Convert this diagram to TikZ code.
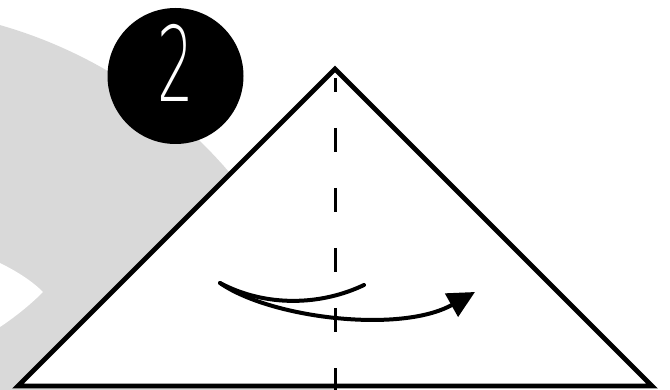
\documentclass[tikz,border=0pt]{standalone}
\usepackage{fontspec}
\newfontfamily\numfont{DejaVu Sans ExtraLight}
\usetikzlibrary{arrows.meta}
\definecolor{bggray}{HTML}{D9D9D9}
\tikzset{
  outline/.style={line width=4.8pt, line join=miter},
  foldline/.style={line width=3pt, dash pattern=on 24pt off 36pt, dash phase=10pt},
  curve/.style={line width=4pt, line cap=round},
}
\begin{document}
\begin{tikzpicture}[x=1pt,y=-1pt]
  \useasboundingbox (0,0) rectangle (670,390);
  \begin{scope}
    \clip (0,0) rectangle (670,390);
    \fill[bggray] (-130,480) circle (473);
    \fill[white] (-2,262) -- (0,263) .. controls (18,272) and (32,281) .. (43,292)
      .. controls (30,305) and (15,317) .. (0,327) -- (-2,328) -- cycle;
  \end{scope}
  \coordinate (apex) at (335,69);
  \coordinate (bl) at (18,386);
  \coordinate (br) at (652,386);
  \filldraw[fill=white, outline] (apex) -- (br) -- (bl) -- cycle;
  \coordinate (ftop) at (335,78);
  \coordinate (fbot) at (335,392);
  \draw[foldline] (ftop) -- (fbot);
  \node[circle, fill=black, minimum size=136pt, inner sep=0pt] (badge) at (175.5,76) {};
  \node[text=white, inner sep=0pt, font=\numfont\fontsize{104}{104}\selectfont] (num) at (176,63) {\scalebox{0.55}[1]{2}};
  \coordinate (s) at (220,283);
  \coordinate (e1) at (364,285);
  \coordinate (e2) at (475,292);
  \draw[curve] (s) .. controls (265,307) and (320,306) .. (e1);
  \draw[curve, -{Triangle[length=27pt, width=26pt]}] (s) .. controls (270,318) and (400,334) .. (e2);
\end{tikzpicture}
\end{document}
